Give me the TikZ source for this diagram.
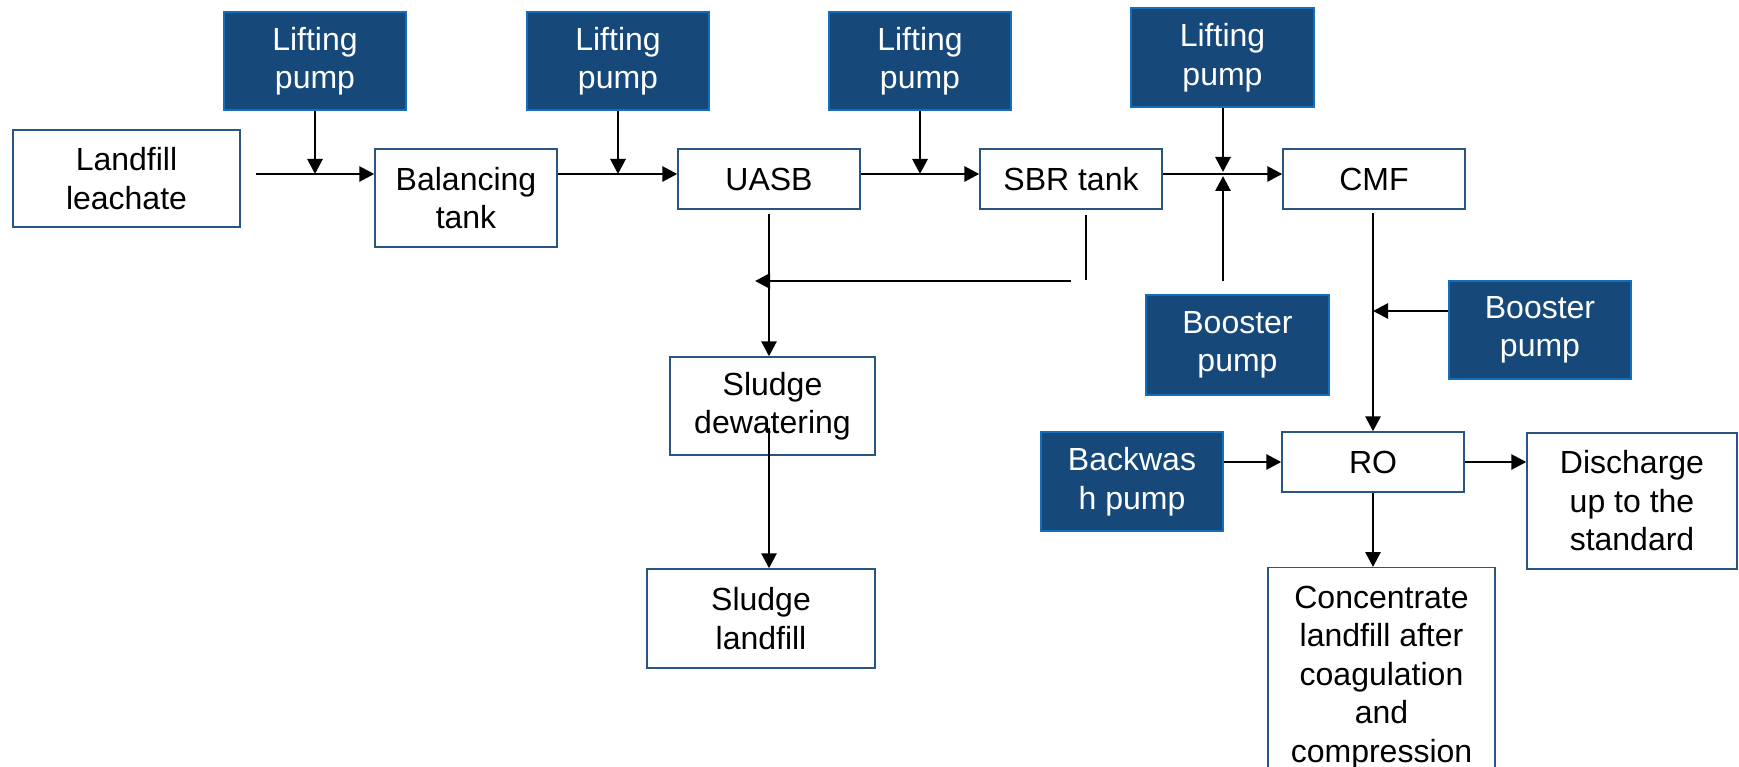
\documentclass[tikz,border=0pt]{standalone}
\usepackage{fontspec}
\setmainfont{Liberation Sans}
\usetikzlibrary{arrows.meta,calc}
\definecolor{pumpfill}{RGB}{22,73,122}
\definecolor{pumpedge}{RGB}{20,110,190}
\definecolor{unitedge}{RGB}{40,85,130}

\begin{document}
\begin{tikzpicture}[x=1pt,y=-1pt,
  txt/.style={align=center, font=\fontsize{32}{38.5}\selectfont},
  unit/.style={txt, draw=unitedge, line width=1.4pt, fill=white, inner sep=0pt},
  pump/.style={txt, draw=pumpedge, line width=1.8pt, fill=pumpfill, text=white, inner sep=0pt},
  flow/.style={line width=2.8pt, -{Triangle[length=15pt,width=15pt]}},
  plain/.style={line width=2.8pt}]

\useasboundingbox (0,0) rectangle (1739,767);
\clip (0,0) rectangle (1739,767);

% lifting pumps along the top
\node[pump, minimum width=182pt, minimum height=98pt] (lp1) at (315,61) {Lifting\\pump};
\node[pump, minimum width=182pt, minimum height=98pt] (lp2) at (618,61) {Lifting\\pump};
\node[pump, minimum width=182pt, minimum height=98pt] (lp3) at (920,61) {Lifting\\pump};
\node[pump, minimum width=183pt, minimum height=99pt] (lp4) at (1222.5,57.5) {Lifting\\pump};

% main treatment line
\node[unit, minimum width=227pt, minimum height=97pt] (leach) at (126.5,178.5) {Landfill\\leachate};
\node[unit, minimum width=182pt, minimum height=98pt] (bal) at (466,198) {Balancing\\tank};
\node[unit, minimum width=182pt, minimum height=60pt] (uasb) at (769,179) {UASB};
\node[unit, minimum width=182pt, minimum height=60pt] (sbr) at (1071,179) {SBR tank};
\node[unit, minimum width=182pt, minimum height=60pt] (cmf) at (1374,179) {CMF};

% boosters, backwash and RO stage
\node[pump, minimum width=183pt, minimum height=100pt] (boost1) at (1237.5,345) {Booster\\pump};
\node[pump, minimum width=182pt, minimum height=98pt] (boost2) at (1540,330) {Booster\\pump};
\node[pump, minimum width=182pt, minimum height=99pt] (back) at (1132,481.5) {Backwas\\h pump};
\node[unit, minimum width=182pt, minimum height=60pt] (ro) at (1373,462) {RO};
\node[unit, minimum width=210pt, minimum height=136pt] (dis) at (1632,501) {Discharge\\up to the\\standard};
\node[unit, anchor=north, minimum width=227pt, inner ysep=18pt] (conc) at (1381.5,567)
  {Concentrate\\landfill after\\coagulation\\and\\compression};

% sludge line
\node[unit, minimum width=205pt, minimum height=98pt] (dew) at (772.5,406) {Sludge\\dewatering};
\node[unit, minimum width=228pt, minimum height=99pt] (sl) at (761,618.5) {Sludge\\landfill};

% junctions on the main line
\coordinate (j1) at (315,174);
\coordinate (j2) at (618,174);
\coordinate (j3) at (920,174);
\coordinate (j4) at (1223,174);
\coordinate (j5) at (1373,311);
\coordinate (b1top) at (1223,281);
\coordinate (sbrbot) at (1086,215);
\coordinate (sbrturn) at (1086,280);
\coordinate (retstart) at (1071,281);
\coordinate (rettip) at (755,281);
\coordinate (dewout) at (769,428);

% main flow
\draw[flow] ($(leach.east |- j1)+(15,0)$) -- (bal.west |- j1);
\draw[flow] (lp1.south) -- (j1);
\draw[flow] (bal.east |- j2) -- (uasb.west |- j2);
\draw[flow] (lp2.south) -- (j2);
\draw[flow] (uasb.east |- j3) -- (sbr.west |- j3);
\draw[flow] (lp3.south) -- (j3);
\draw[flow] (sbr.east |- j4) -- (cmf.west |- j4);
\draw[flow, shorten >=2pt] (lp4.south -| j4) -- (j4);
\draw[flow, shorten >=2pt] (b1top) -- (j4);
\draw[flow] ([yshift=-3pt]cmf.south -| ro.north) -- (ro.north);
\draw[flow] (boost2.west |- j5) -- (j5);
\draw[flow] (back.east |- ro.west) -- (ro.west);
\draw[flow] (ro.east) -- (dis.west |- ro.east);
\draw[flow] (ro.south) -- (conc.north -| ro.south);

% sludge flow
\draw[flow] ([yshift=-4pt]uasb.south) -- (dew.north -| uasb.south);
\draw[plain] (sbrbot) -- (sbrturn);
\draw[flow] (retstart) -- (rettip);
\draw[flow] (dewout) -- (sl.north -| dewout);
\end{tikzpicture}
\end{document}
